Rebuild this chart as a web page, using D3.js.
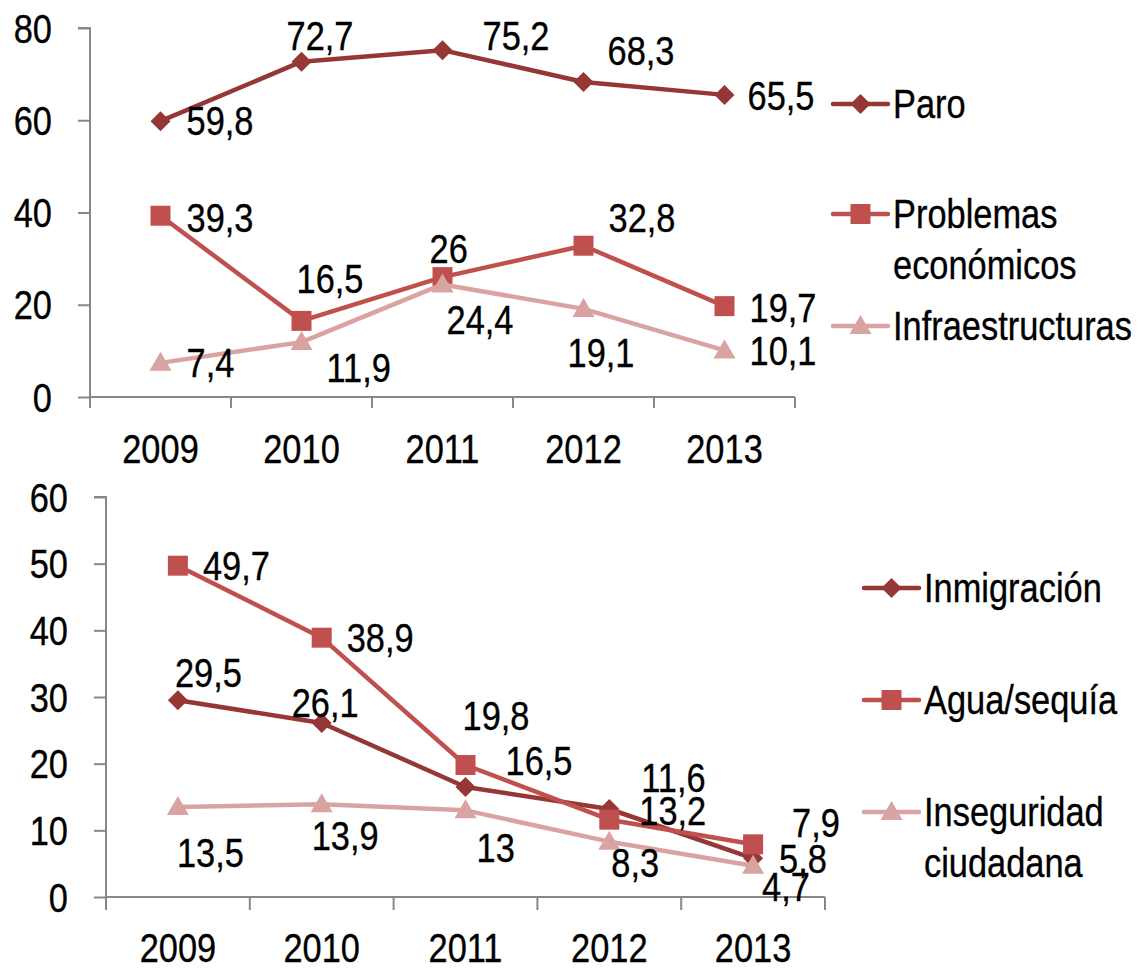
<!DOCTYPE html>
<html>
<head>
<meta charset="utf-8">
<script src="https://cdn.jsdelivr.net/npm/d3@7/dist/d3.min.js"></script>
<style>
  html, body { margin: 0; padding: 0; background: #fff; }
  svg { display: block; }
  text { font-family: "Liberation Sans", Arial, sans-serif; fill: #000; }
</style>
</head>
<body>
<svg id="chart" width="1138" height="970"></svg>
<script>
// ---------- DATA ----------
const years = ["2009", "2010", "2011", "2012", "2013"];

// Top panel
const topTicks = [0, 20, 40, 60, 80];
const paro = [59.8, 72.7, 75.2, 68.3, 65.5];
const problemasEconomicos = [39.3, 16.5, 26, 32.8, 19.7];
const infraestructuras = [7.4, 11.9, 24.4, 19.1, 10.1];
const topNames = ["Paro", "Problemas|económicos", "Infraestructuras"];

// Bottom panel
const bottomTicks = [0, 10, 20, 30, 40, 50, 60];
const inmigracion = [29.5, 26.1, 16.5, 13.2, 5.8];
const aguaSequia = [49.7, 38.9, 19.8, 11.6, 7.9];
const inseguridad = [13.5, 13.9, 13, 8.3, 4.7];
const bottomNames = ["Inmigración", "Agua/sequía", "Inseguridad|ciudadana"];

// ---------- STYLE / LAYOUT ----------
const colors = ["#953735", "#C0504D", "#D9A3A2"];
const shapes = ["diamond", "square", "triangle"];
const axisColor = "#888888";
const fontSize = 40;
const narrow = 0.86; // horizontal condensing to mimic a narrow face

// label offsets (dx, baseline dy) relative to each point
const topLabelOffsets = [
  [[26, 14], [-15, -12], [40, 0], [24, -17], [23, 15]],
  [[26, 16], [-5, -28], [-13, -14], [25, -14], [25, 16]],
  [[26, 14], [25, 40], [4, 50], [-16, 58], [25, 15]]
];
const bottomLabelOffsets = [
  [[-3, -13], [-30, -6], [40, -12], [30, 16], [26, 15]],
  [[25, 14], [25, 14], [-3, -35], [32, -28], [39, -7]],
  [[-1, 60], [-10, 46], [11, 52], [2, 35], [9, 35]]
];

const svg = d3.select("#chart");

function label(g, x, y, txt, anchor) {
  return g.append("text")
    .attr("transform", `translate(${x},${y}) scale(${narrow},1)`)
    .attr("text-anchor", anchor || "start")
    .attr("font-size", fontSize)
    .attr("stroke", "#000").attr("stroke-width", 0.35)
    .text(txt);
}
function markerPath(shape) {
  if (shape === "diamond") return "M0,-10L10,0L0,10L-10,0Z";
  if (shape === "square") return "M-10,-10H10V10H-10Z";
  return "M0,-11L11,8H-11Z";
}
const fmt = v => String(v).replace(".", ",");

function drawPanel(cfg) {
  const g = svg.append("g");
  const x = d3.scaleBand().domain(years).range([cfg.x0, cfg.x1]).padding(0);
  const y = d3.scaleLinear().domain([0, cfg.max]).range([cfg.y0, cfg.y1]);

  // y axis
  const ya = g.append("g").attr("transform", `translate(${cfg.x0},0)`)
    .call(d3.axisLeft(y).tickValues(cfg.ticks).tickSize(12).tickFormat(""));
  ya.select(".domain").attr("stroke", axisColor).attr("stroke-width", 2).attr("d", `M-12,${cfg.y1}H0V${cfg.y0}`);
  ya.selectAll(".tick line").attr("stroke", axisColor).attr("stroke-width", 2);
  cfg.ticks.forEach(t => label(g, cfg.x0 - 38, y(t) + 14.5, String(t), "end"));

  // x axis
  const xa = g.append("g").attr("transform", `translate(0,${cfg.y0})`)
    .call(d3.axisBottom(x).tickSize(0).tickFormat(""));
  xa.select(".domain").attr("stroke", axisColor).attr("stroke-width", 2).attr("d", `M${cfg.x0},0H${cfg.x1}`);
  const bounds = years.map(d => x(d)).concat([x(years[years.length - 1]) + x.bandwidth()]);
  xa.selectAll("line.bound").data(bounds).enter().append("line").attr("class", "bound")
    .attr("x1", d => d).attr("x2", d => d).attr("y1", 0).attr("y2", cfg.xTick)
    .attr("stroke", axisColor).attr("stroke-width", 2);
  years.forEach(yr => label(g, x(yr) + x.bandwidth() / 2, cfg.y0 + cfg.xLabelDy, yr, "middle"));

  const line = d3.line().x((d, i) => x(years[i]) + x.bandwidth() / 2).y(d => y(d));

  cfg.series.forEach((s, si) => {
    g.append("path").datum(s).attr("d", line).attr("fill", "none")
      .attr("stroke", colors[si]).attr("stroke-width", 4.5).attr("stroke-linejoin", "round");
    g.selectAll(null).data(s).enter().append("path")
      .attr("d", markerPath(shapes[si]))
      .attr("transform", (d, i) => `translate(${x(years[i]) + x.bandwidth() / 2},${y(d)})`)
      .attr("fill", colors[si]);
  });
  cfg.series.forEach((s, si) => {
    s.forEach((d, i) => {
      label(g, x(years[i]) + x.bandwidth() / 2 + cfg.offsets[si][i][0], y(d) + cfg.offsets[si][i][1], fmt(d));
    });
  });

  // legend
  cfg.names.forEach((name, si) => {
    const ly = cfg.legendY[si];
    const lg = g.append("g").attr("transform", `translate(${cfg.legendX},${ly})`);
    lg.append("line").attr("x1", 0).attr("x2", 55).attr("y1", 0).attr("y2", 0)
      .attr("stroke", colors[si]).attr("stroke-width", 4.5).attr("stroke-linecap", "round");
    lg.append("path").attr("d", markerPath(shapes[si])).attr("transform", "translate(27.5,0)").attr("fill", colors[si]);
    name.split("|").forEach((t, li) => label(lg, 60, 14 + li * 51, t));
  });
}

drawPanel({
  x0: 90, x1: 795, y0: 397, y1: 28, max: 80, ticks: topTicks, xTick: 11, xLabelDy: 66,
  series: [paro, problemasEconomicos, infraestructuras],
  offsets: topLabelOffsets, names: topNames,
  legendX: 833, legendY: [104, 214, 326]
});

drawPanel({
  x0: 106, x1: 825, y0: 897, y1: 497, max: 60, ticks: bottomTicks, xTick: 13, xLabelDy: 65,
  series: [inmigracion, aguaSequia, inseguridad],
  offsets: bottomLabelOffsets, names: bottomNames,
  legendX: 864, legendY: [588, 700, 812]
});
</script>
</body>
</html>
